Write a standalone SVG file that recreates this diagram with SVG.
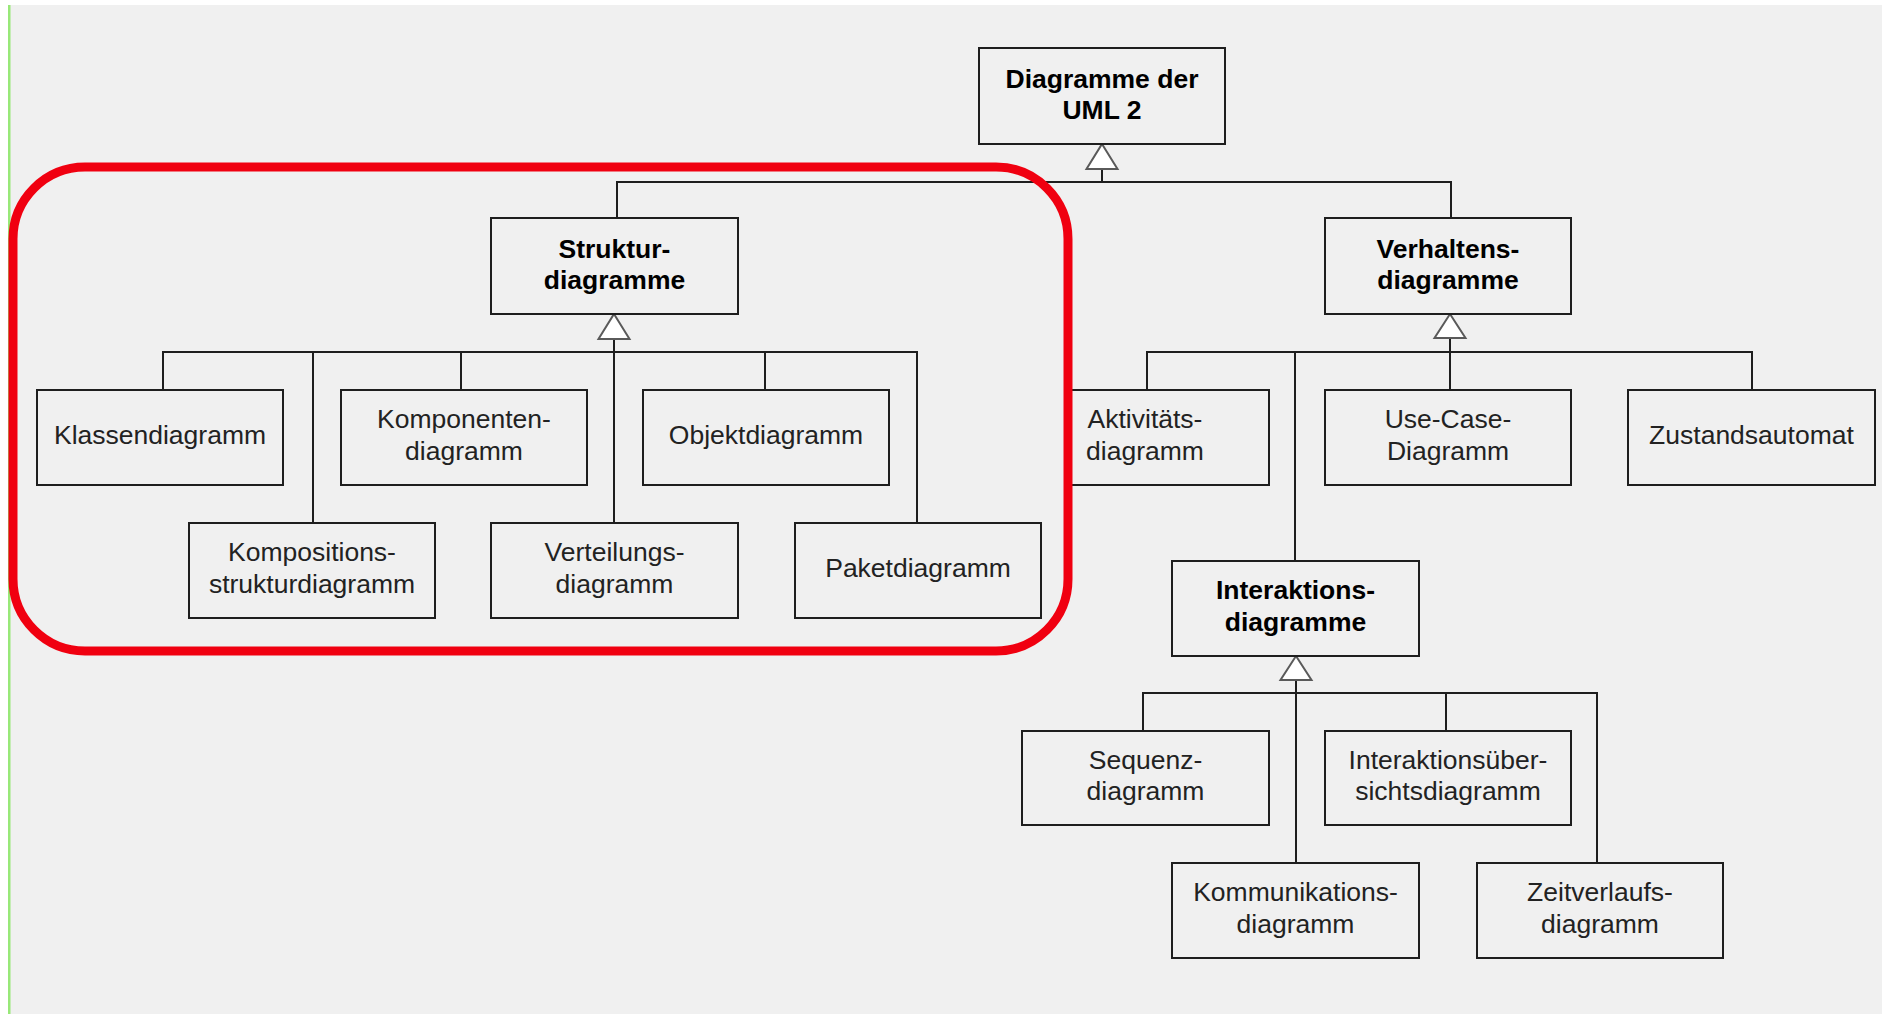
<svg xmlns="http://www.w3.org/2000/svg" width="1883" height="1014" viewBox="0 0 1883 1014">
<style>
.box{fill:#f0f0f0;stroke:#1e1e1e;stroke-width:2}
.ln{fill:none;stroke:#1e1e1e;stroke-width:2}
.tri{fill:#ffffff;stroke:#5a5a5a;stroke-width:2;stroke-linejoin:miter}
.t{font-family:"Liberation Sans",Arial,sans-serif;font-size:26.5px;fill:#222222;text-anchor:middle}
.b{font-weight:bold;fill:#000000}
</style>
<rect x="0" y="0" width="1883" height="1014" fill="#ffffff"/>
<rect x="10" y="5" width="1872" height="1009" fill="#f0f0f0"/>
<rect x="8" y="5" width="2.5" height="1009" fill="#98e878"/>
<g id="connectors">
<path class="ln" d="M1102 169V182M617 218V182H1451V218"/>
<path class="ln" d="M614 339V523M163 390V352H917V523M313 352V523M461 352V390M765 352V390"/>
<path class="ln" d="M1450 338V390M1147 390V352H1752V390M1295 352V561"/>
<path class="ln" d="M1296 680V863M1143 731V693H1597V863M1446 693V731"/>
<polygon class="tri" points="1102,144 1117.5,169 1086.5,169"/>
<polygon class="tri" points="614,314 629.5,339 598.5,339"/>
<polygon class="tri" points="1450,314 1465.5,338 1434.5,338"/>
<polygon class="tri" points="1296,656 1311.5,680 1280.5,680"/>
</g>
<g id="root"><rect class="box" x="979" y="48" width="246" height="96"/><text class="t b" x="1102" y="87.5">Diagramme der</text><text class="t b" x="1102" y="119">UML 2</text></g>
<g id="struktur"><rect class="box" x="491" y="218" width="247" height="96"/><text class="t b" x="614.5" y="257.5">Struktur-</text><text class="t b" x="614.5" y="289">diagramme</text></g>
<g id="verhaltens"><rect class="box" x="1325" y="218" width="246" height="96"/><text class="t b" x="1448" y="257.5">Verhaltens-</text><text class="t b" x="1448" y="289">diagramme</text></g>
<g id="klassen"><rect class="box" x="37" y="390" width="246" height="95"/><text class="t" x="160" y="444">Klassendiagramm</text></g>
<g id="komponenten"><rect class="box" x="341" y="390" width="246" height="95"/><text class="t" x="464" y="428">Komponenten-</text><text class="t" x="464" y="459.5">diagramm</text></g>
<g id="objekt"><rect class="box" x="643" y="390" width="246" height="95"/><text class="t" x="766" y="444">Objektdiagramm</text></g>
<g id="kompositions"><rect class="box" x="189" y="523" width="246" height="95"/><text class="t" x="312" y="561">Kompositions-</text><text class="t" x="312" y="592.5">strukturdiagramm</text></g>
<g id="verteilung"><rect class="box" x="491" y="523" width="247" height="95"/><text class="t" x="614.5" y="561">Verteilungs-</text><text class="t" x="614.5" y="592.5">diagramm</text></g>
<g id="paket"><rect class="box" x="795" y="523" width="246" height="95"/><text class="t" x="918" y="577">Paketdiagramm</text></g>
<g id="aktivitaet"><rect class="box" x="1069" y="390" width="200" height="95"/><text class="t" x="1145" y="428">Aktivitäts-</text><text class="t" x="1145" y="459.5">diagramm</text></g>
<g id="usecase"><rect class="box" x="1325" y="390" width="246" height="95"/><text class="t" x="1448" y="428">Use-Case-</text><text class="t" x="1448" y="459.5">Diagramm</text></g>
<g id="zustand"><rect class="box" x="1628" y="390" width="247" height="95"/><text class="t" x="1751.5" y="444">Zustandsautomat</text></g>
<g id="interaktionen"><rect class="box" x="1172" y="561" width="247" height="95"/><text class="t b" x="1295.5" y="599">Interaktions-</text><text class="t b" x="1295.5" y="630.5">diagramme</text></g>
<g id="sequenz"><rect class="box" x="1022" y="731" width="247" height="94"/><text class="t" x="1145.5" y="768.5">Sequenz-</text><text class="t" x="1145.5" y="800">diagramm</text></g>
<g id="interaktionsuebersicht"><rect class="box" x="1325" y="731" width="246" height="94"/><text class="t" x="1448" y="768.5">Interaktionsüber-</text><text class="t" x="1448" y="800">sichtsdiagramm</text></g>
<g id="kommunikation"><rect class="box" x="1172" y="863" width="247" height="95"/><text class="t" x="1295.5" y="901">Kommunikations-</text><text class="t" x="1295.5" y="932.5">diagramm</text></g>
<g id="zeitverlauf"><rect class="box" x="1477" y="863" width="246" height="95"/><text class="t" x="1600" y="901">Zeitverlaufs-</text><text class="t" x="1600" y="932.5">diagramm</text></g>
<g id="highlight"><rect x="13" y="167" width="1055" height="484" rx="72" ry="72" fill="none" stroke="#f00010" stroke-width="9"/></g>
</svg>
